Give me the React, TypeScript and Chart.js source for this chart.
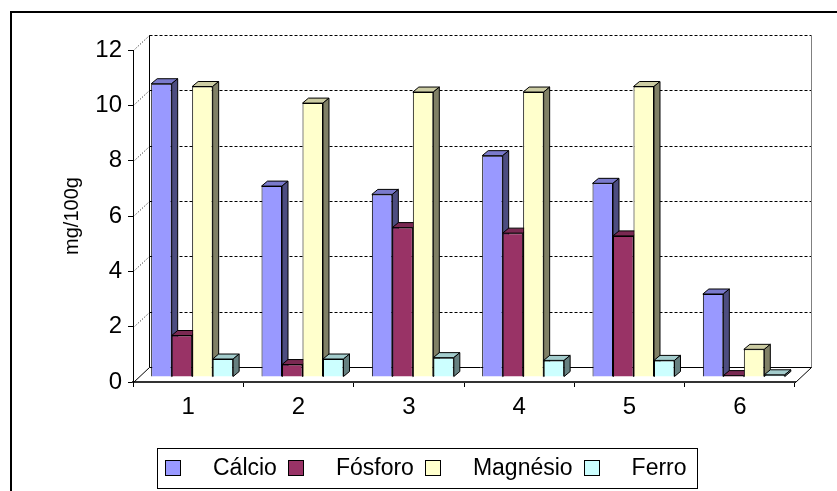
import React, { useEffect, useRef } from 'react';
import { Chart, registerables } from 'chart.js';

Chart.register(...registerables);

// ---- data ----
const categories = ['1', '2', '3', '4', '5', '6'];
const seriesNames = ['Cálcio', 'Fósforo', 'Magnésio', 'Ferro'];
const calcio = [10.6, 6.9, 6.6, 8.0, 7.0, 3.0];
const fosforo = [1.5, 0.45, 5.4, 5.2, 5.1, 0.05];
const magnesio = [10.5, 9.9, 10.3, 10.3, 10.5, 1.0];
const ferro = [0.65, 0.65, 0.7, 0.6, 0.6, 0.08];
const yTicks = [0, 2, 4, 6, 8, 10, 12];
const yTitle = 'mg/100g';

// ---- styles ----
const FONT = '"Liberation Sans", Arial, Helvetica, sans-serif';
const frontColors = ['#9999FF', '#993366', '#FFFFCC', '#CCFFFF'];
const topColors = ['#7A7ACC', '#7A2952', '#CCCCA3', '#A3CCCC'];
const sideColors = ['#4D4D80', '#4D1A33', '#808066', '#668080'];

const DEPTH_X = 6;
const DEPTH_Y = 5;
const SHIFT_X = 4;
const SHIFT_Y = -5;
const WALL_X = 16;
const WALL_Y = -15;

const px = (v: number) => Math.round(v) + 0.5;

const threeD = {
  id: 'threeD',
  beforeDatasetsDraw(chart: any) {
    const { ctx, chartArea: a, scales } = chart;
    const y = scales.y;
    const L = px(a.left + WALL_X);
    const R = px(a.right + WALL_X);
    const y0 = px(y.getPixelForValue(0));
    const yTop = px(y.getPixelForValue(12));
    ctx.save();
    ctx.lineWidth = 1;
    ctx.strokeStyle = '#000';
    // gridlines on back wall + dotted slants on left wall
    yTicks.forEach((v) => {
      if (v === 0) return;
      const yy = px(y.getPixelForValue(v));
      ctx.setLineDash([3, 2]);
      ctx.beginPath();
      ctx.moveTo(L, yy + WALL_Y);
      ctx.lineTo(R, yy + WALL_Y);
      ctx.stroke();
      ctx.setLineDash([1, 2]);
      ctx.beginPath();
      ctx.moveTo(px(a.left), yy);
      ctx.lineTo(L, yy + WALL_Y);
      ctx.stroke();
    });
    ctx.setLineDash([]);
    // left back edge
    ctx.beginPath();
    ctx.moveTo(L, yTop + WALL_Y);
    ctx.lineTo(L, y0 + WALL_Y);
    ctx.stroke();
    // right back edge
    ctx.strokeStyle = '#808080';
    ctx.beginPath();
    ctx.moveTo(R, yTop + WALL_Y);
    ctx.lineTo(R, y0 + WALL_Y);
    ctx.stroke();
    // floor
    ctx.strokeStyle = '#000';
    ctx.beginPath();
    ctx.moveTo(L, y0 + WALL_Y);
    ctx.lineTo(R, y0 + WALL_Y);
    ctx.moveTo(px(a.left), y0);
    ctx.lineTo(L, y0 + WALL_Y);
    ctx.moveTo(px(a.right), y0);
    ctx.lineTo(R, y0 + WALL_Y);
    ctx.stroke();
    ctx.restore();
  },
  beforeDatasetDraw() {
    return false;
  },
  afterDatasetsDraw(chart: any) {
    const { ctx } = chart;
    ctx.save();
    ctx.translate(SHIFT_X, SHIFT_Y);
    chart.data.datasets.forEach((_: any, i: number) => {
      const meta = chart.getDatasetMeta(i);
      if (meta.hidden) return;
      meta.data.forEach((el: any) => el.draw(ctx));
      meta.data.forEach((el: any) => {
        const { x, y, base, width } = el.getProps(['x', 'y', 'base', 'width'], true);
        const l = x - width / 2;
        const r = x + width / 2;
        ctx.lineWidth = 1;
        ctx.strokeStyle = '#000';
        ctx.lineJoin = 'round';
        // top face
        ctx.beginPath();
        ctx.moveTo(l, y);
        ctx.lineTo(l + DEPTH_X, y - DEPTH_Y);
        ctx.lineTo(r + DEPTH_X, y - DEPTH_Y);
        ctx.lineTo(r, y);
        ctx.closePath();
        ctx.fillStyle = topColors[i];
        ctx.fill();
        ctx.stroke();
        // side face
        ctx.beginPath();
        ctx.moveTo(r, y);
        ctx.lineTo(r + DEPTH_X, y - DEPTH_Y);
        ctx.lineTo(r + DEPTH_X, base - DEPTH_Y);
        ctx.lineTo(r, base);
        ctx.closePath();
        ctx.fillStyle = sideColors[i];
        ctx.fill();
        ctx.stroke();
      });
    });
    ctx.restore();
  },
};

const boxLegend = {
  id: 'boxLegend',
  afterDraw(chart: any) {
    const { ctx } = chart;
    ctx.save();
    ctx.font = `23px ${FONT}`;
    const left = 157;
    const top = 448;
    const h = 40;
    const pad = 8;
    const box = 16;
    const gap = 32;
    const itemGap = 11;
    const endPad = 10;
    const items = chart.data.datasets.map((ds: any) => ({
      text: ds.label,
      color: ds.backgroundColor,
      w: ctx.measureText(ds.label).width,
    }));
    let total = pad + endPad + itemGap * (items.length - 1);
    items.forEach((it: any) => (total += box + gap + it.w));
    ctx.fillStyle = '#fff';
    ctx.fillRect(left, top, total, h);
    ctx.lineWidth = 1;
    ctx.strokeStyle = '#000';
    ctx.strokeRect(left + 0.5, top + 0.5, Math.round(total), h);
    const cy = top + h / 2;
    let x = left + pad;
    items.forEach((it: any) => {
      const bx = Math.round(x);
      ctx.fillStyle = it.color;
      ctx.fillRect(bx, cy - box / 2, box, box);
      ctx.strokeRect(bx + 0.5, cy - box / 2 + 0.5, box - 1, box - 1);
      ctx.fillStyle = '#000';
      ctx.textBaseline = 'middle';
      ctx.textAlign = 'left';
      ctx.fillText(it.text, x + box + gap, cy + 1);
      x += box + gap + it.w + itemGap;
    });
    ctx.restore();
  },
};

const outerFrame = {
  id: 'outerFrame',
  beforeDraw(chart: any) {
    const { ctx, width, height } = chart;
    ctx.save();
    ctx.fillStyle = '#fff';
    ctx.fillRect(0, 0, width, height);
    ctx.restore();
  },
  afterDraw(chart: any) {
    const { ctx } = chart;
    ctx.save();
    ctx.lineWidth = 2;
    ctx.strokeStyle = '#000';
    ctx.strokeRect(11, 12, 1200, 1200);
    ctx.restore();
  },
};

export default function App() {
  const ref = useRef<HTMLCanvasElement | null>(null);

  useEffect(() => {
    if (!ref.current) return;
    const seriesValues = [calcio, fosforo, magnesio, ferro];
    const chart = new Chart(ref.current, {
      type: 'bar',
      data: {
        labels: categories,
        datasets: seriesNames.map((name, i) => ({
          label: name,
          data: seriesValues[i],
          backgroundColor: frontColors[i],
          borderColor: '#000',
          borderWidth: 1,
          barPercentage: 1,
          categoryPercentage: 0.743,
        })),
      },
      options: {
        animation: false,
        responsive: true,
        maintainAspectRatio: false,
        devicePixelRatio: 1,
        events: [],
        layout: { padding: { top: 50, right: 42, bottom: 69, left: 0 } },
        plugins: {
          legend: { display: false },
          tooltip: { enabled: false },
          title: { display: false },
        },
        scales: {
          x: {
            type: 'category',
            afterFit: (s: any) => {
              s.height = 40;
            },
            grid: {
              offset: true,
              drawOnChartArea: false,
              drawTicks: true,
              tickLength: 5,
              color: '#000',
            },
            border: { display: true, color: '#333', width: 2 },
            ticks: {
              color: '#000',
              font: { family: FONT, size: 24 },
              padding: 6,
              maxRotation: 0,
            },
          },
          y: {
            min: 0,
            max: 12,
            afterFit: (s: any) => {
              s.width = 133;
            },
            afterBuildTicks: (s: any) => {
              s.ticks = yTicks.map((v) => ({ value: v }));
            },
            grid: {
              drawOnChartArea: false,
              drawTicks: true,
              tickLength: 5,
              color: '#000',
            },
            border: { display: true, color: '#000', width: 1 },
            ticks: {
              color: '#000',
              font: { family: FONT, size: 24 },
              padding: 6,
            },
            title: {
              display: true,
              text: yTitle,
              color: '#000',
              font: { family: FONT, size: 20 },
              padding: { top: 60, bottom: 0 },
            },
          },
        },
      },
      plugins: [outerFrame, threeD, boxLegend],
    });
    return () => chart.destroy();
  }, []);

  return (
    <div style={{ position: 'fixed', left: 0, top: 0, width: 837, height: 491, background: '#fff' }}>
      <canvas ref={ref} />
    </div>
  );
}
